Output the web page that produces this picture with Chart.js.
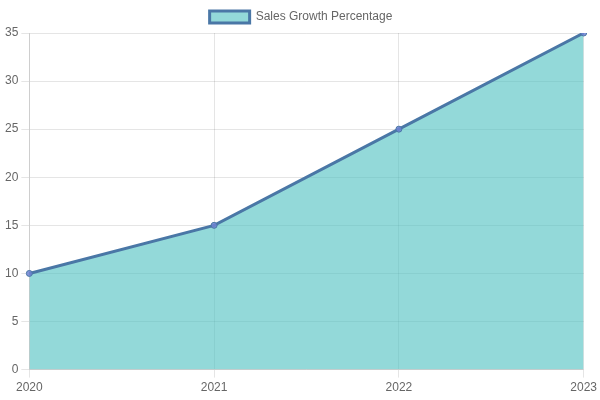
<!DOCTYPE html>
<html>
<head>
<meta charset="utf-8">
<script src="https://cdn.jsdelivr.net/npm/chart.js@4"></script>
<style>
  html, body { margin: 0; padding: 0; background: #fff; }
  #wrap { width: 600px; height: 400px; }
</style>
</head>
<body>
<div id="wrap"><canvas id="myChart"></canvas></div>
<script>
const years = ['2020', '2021', '2022', '2023'];
const salesGrowth = [10, 15, 25, 35];

const ctx = document.getElementById('myChart').getContext('2d');
const chart = new Chart(ctx, {
    type: 'line',
    data: {
        labels: years,
        datasets: [{
            label: 'Sales Growth Percentage',
            data: salesGrowth,
            borderColor: '#4A77A6',
            backgroundColor: 'rgba(75, 192, 192, 0.6)',
            borderWidth: 3,
            pointRadius: 3,
            pointBorderWidth: 1,
            pointBackgroundColor: 'rgba(110, 130, 210, 0.85)',
            fill: true,
            tension: 0,
        }],
    },
    options: {
        responsive: true,
        maintainAspectRatio: false,
        animation: false,
        layout: {
            padding: { left: 2, top: 1, bottom: 2 },
        },
        scales: {
            y: {
                beginAtZero: true,
                max: 35,
                ticks: { stepSize: 5 },
            },
        },
    },
});
</script>
</body>
</html>
